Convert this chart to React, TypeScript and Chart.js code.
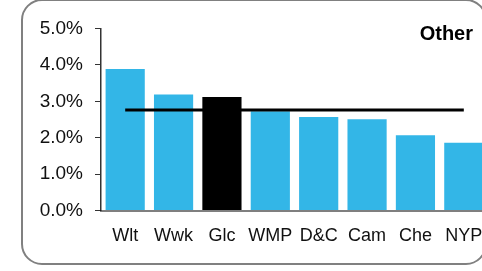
import React, { useEffect, useRef } from "react";
import { Chart, registerables } from "chart.js";

Chart.register(...registerables);

const categories = ["Wlt", "Wwk", "Glc", "WMP", "D&C", "Cam", "Che", "NYP"];
const shareValues = [3.89, 3.19, 3.12, 2.73, 2.57, 2.51, 2.07, 1.86];
const averageValue = [2.76, 2.76, 2.76, 2.76, 2.76, 2.76, 2.76, 2.76];
const highlighted = "Glc";
const yTicks = [0, 1, 2, 3, 4, 5];
const titleText = "Other";

const FONT = "'Liberation Sans', Arial, Helvetica, sans-serif";

export default function App() {
  const ref = useRef<HTMLCanvasElement | null>(null);

  useEffect(() => {
    const canvas = ref.current;
    if (!canvas) return;
    const titlePlugin = {
      id: "cornerTitle",
      afterDraw(chart: any) {
        const ctx = chart.ctx;
        ctx.save();
        ctx.font = `bold 20px ${FONT}`;
        ctx.fillStyle = "#000";
        ctx.textAlign = "right";
        ctx.textBaseline = "middle";
        ctx.fillText(titleText, 473, 34);
        ctx.restore();
      },
    };
    const chart = new Chart(canvas, {
      type: "bar",
      data: {
        labels: categories,
        datasets: [
          {
            type: "line",
            data: averageValue,
            borderColor: "#000",
            borderWidth: 3,
            pointRadius: 0,
            order: 0,
          } as any,
          {
            type: "bar",
            data: shareValues,
            backgroundColor: categories.map((c) => (c === highlighted ? "#000000" : "#33b6e7")),
            borderWidth: 0,
            categoryPercentage: 0.81,
            barPercentage: 1,
            order: 1,
          },
        ],
      },
      options: {
        animation: false,
        responsive: false,
        maintainAspectRatio: false,
        layout: { padding: { left: 0, right: 12, top: 28.5, bottom: 0.5 } },
        plugins: { legend: { display: false }, tooltip: { enabled: false } },
        scales: {
          x: {
            grid: { display: false, drawTicks: false },
            border: { display: true, color: "rgba(0,0,0,0.5)", width: 2, z: 1 },
            ticks: {
              color: "#111",
              font: { family: FONT, size: 18 },
              padding: 15,
              maxRotation: 0,
              autoSkip: false,
            },
            afterFit(scale: any) {
              scale.height = 60;
            },
          },
          y: {
            min: 0,
            max: 5,
            afterBuildTicks(scale: any) {
              scale.ticks = yTicks.map((v) => ({ value: v }));
            },
            grid: { drawOnChartArea: false, drawTicks: true, tickLength: 6, color: "#333" },
            border: { display: true, color: "#333", width: 1.5 },
            ticks: {
              color: "#111",
              font: { family: FONT, size: 19 },
              padding: 12,
              callback: (v: any) => Number(v).toFixed(1) + "%",
            },
            afterFit(scale: any) {
              scale.width = 101;
            },
          },
        },
      },
      plugins: [titlePlugin],
    });
    return () => chart.destroy();
  }, []);

  return (
    <div
      style={{
        position: "fixed",
        left: 0,
        top: 0,
        width: 482,
        height: 271,
        overflow: "hidden",
        background: "#fff",
      }}
    >
      <div
        style={{
          position: "absolute",
          left: 21,
          top: -1,
          width: 466,
          height: 266,
          boxSizing: "border-box",
          border: "2px solid #808080",
          borderRadius: 21,
        }}
      />
      <canvas
        ref={ref}
        width={500}
        height={271}
        style={{ position: "absolute", left: 0, top: 0, width: 500, height: 271 }}
      />
    </div>
  );
}
